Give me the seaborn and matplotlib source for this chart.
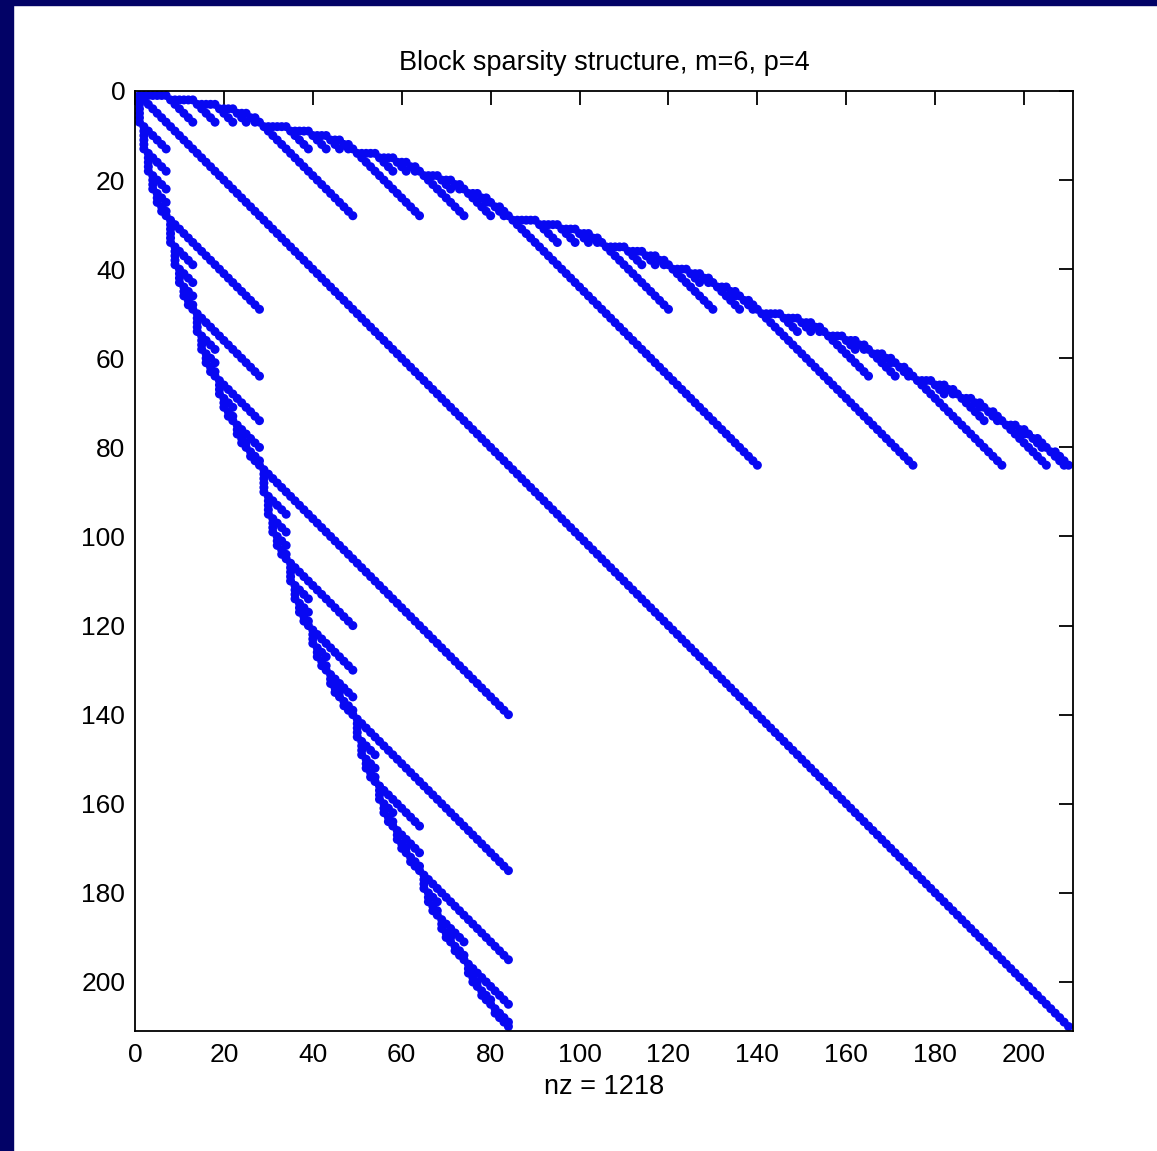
import itertools
import numpy as np
import pandas as pd
import matplotlib
matplotlib.use("Agg")
import matplotlib.pyplot as plt
from matplotlib.patches import Rectangle
import seaborn as sns

# problem parameters from the title
m = 6   # number of variables
p = 4   # maximum degree
tick_values = [0, 20, 40, 60, 80, 100, 120, 140, 160, 180, 200]


def grlex_monomials(nvars, maxdeg):
    """exponent tuples, graded, lex inside each degree (x1 > x2 > ...)"""
    basis = []
    for d in range(maxdeg + 1):
        block = [e for e in itertools.product(range(d + 1), repeat=nvars) if sum(e) == d]
        block.sort(reverse=True)
        basis.extend(block)
    return basis


def sparsity_pattern(nvars, maxdeg):
    basis = grlex_monomials(nvars, maxdeg)
    index = {e: i for i, e in enumerate(basis)}
    rows, cols = [], []
    for i, e in enumerate(basis):
        rows.append(i)
        cols.append(i)
        if sum(e) == maxdeg:
            continue
        for k in range(nvars):
            f = list(e)
            f[k] += 1
            j = index[tuple(f)]
            rows += [i, j]
            cols += [j, i]
    return np.array(rows) + 1, np.array(cols) + 1, len(basis)


rows, cols, n = sparsity_pattern(m, p)
df = pd.DataFrame({"row": rows, "col": cols}).drop_duplicates()

sns.set_style("white")
plt.rcParams["font.family"] = ["Liberation Sans", "DejaVu Sans"]
plt.rcParams["text.color"] = "black"
plt.rcParams["axes.labelcolor"] = "black"

fig = plt.figure(figsize=(11.57, 11.51), dpi=100)
ax = fig.add_axes([135 / 1157, 1 - 1031 / 1151, 938 / 1157, 940 / 1151])

sns.scatterplot(data=df, x="col", y="row", ax=ax, color="#0808f2",
                s=42, linewidth=0, edgecolor="none", legend=False)

ax.set_xlim(0, n + 1)
ax.set_ylim(n + 1, 0)
ax.set_xticks(tick_values)
ax.set_yticks(tick_values)
ax.tick_params(direction="in", length=10, width=1.3, top=True, right=True,
               labelsize=19, colors="black")
ax.tick_params(axis="x", pad=9)
ax.tick_params(axis="y", pad=7)
for s in ax.spines.values():
    s.set_linewidth(1.3)
    s.set_color("black")

ax.set_title("Block sparsity structure, m=6, p=4", fontsize=19.5, pad=15,
             color="black")
ax.set_xlabel("nz = %d" % len(df), fontsize=19.5, labelpad=5)
ax.set_ylabel("")

# dark slide border on the left and top
fig.patches.append(Rectangle((0, 0), 13 / 1157, 1, transform=fig.transFigure,
                             color="#020266", zorder=-1))
fig.patches.append(Rectangle((0, 1 - 5 / 1151), 1, 5 / 1151, transform=fig.transFigure,
                             color="#020266", zorder=-1))

fig.savefig("out.png", dpi=100, facecolor="white")
